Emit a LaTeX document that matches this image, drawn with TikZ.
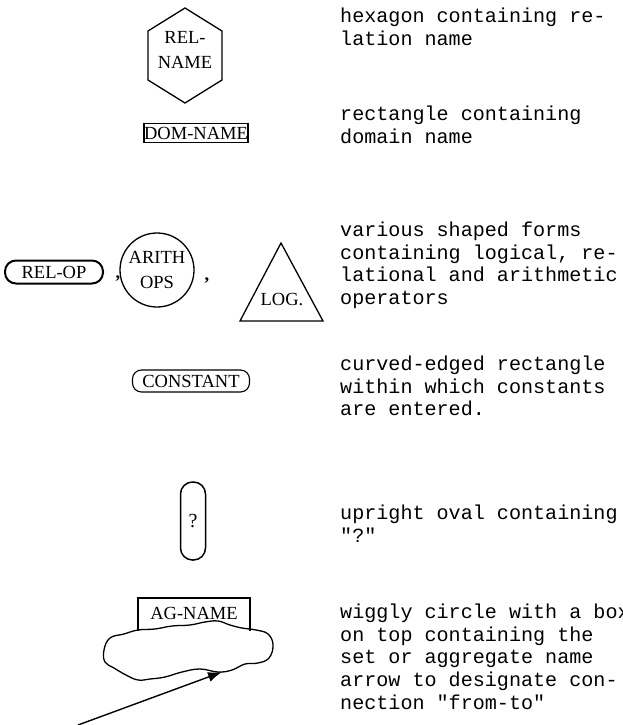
\documentclass[tikz,border=0pt]{standalone}
\usepackage{fontspec}
\setmainfont{Liberation Serif}
\newfontfamily\descfont{Liberation Mono}
\usetikzlibrary{arrows.meta,positioning,calc}

\begin{document}
\begin{tikzpicture}[
  x=1pt, y=-1pt,
  font=\fontsize{18.5}{25}\selectfont,
  desc/.style={anchor=north west, align=left, inner sep=0pt, font=\descfont\fontsize{20.1}{22.6}\selectfont},
  outline/.style={line width=1.3pt},
  dombox/.style={draw, outline, minimum width=102pt, minimum height=19pt, inner sep=0pt},
  relop/.style={draw, line width=2pt, rounded corners=11pt, minimum width=98pt, minimum height=23pt, inner sep=0pt},
  arith/.style={draw, circle, outline, minimum size=74pt, inner sep=0pt, align=center},
  constbox/.style={draw, line width=1.1pt, rounded corners=9pt, minimum width=117pt, minimum height=22pt, inner sep=0pt},
  askoval/.style={draw, line width=1.5pt, rounded corners=12pt, minimum width=25pt, minimum height=78pt, inner sep=0pt, font=\fontsize{20}{22}\selectfont},
  arr/.style={-{Latex[length=14pt,width=10pt]}, line width=1.4pt}
]
\useasboundingbox (0,0) rectangle (623,725);

% hexagon
\node[align=center, inner sep=0pt] (relname) at (185,50) {REL-\\NAME};
\draw[outline] (185,8) -- (222,31) -- (222,80) -- (185,103) -- (148,80) -- (148,31) -- cycle;
\node[desc] (d1) at (340,8) {hexagon containing re-\\lation name};

% rectangle
\node[dombox] (domname) at (196,133) {DOM-NAME};
\node[desc] (d2) at (340,106) {rectangle containing\\domain name};

% operators
\node[relop] (relop) at (54,272) {REL-OP};
\node (comma1) at (118,279) {\textbf{,}};
\node[arith] (arith) at (157,270) {ARITH\\OPS};
\node (comma2) at (207,281) {\textbf{,}};
\draw[outline] (281,243) -- (323,321) -- (240,321) -- cycle;
\node (logop) at (282,300) {LOG.};
\node[desc] (d3) at (340,222) {various shaped forms\\containing logical, re-\\lational and arithmetic\\operators};

% constant
\node[constbox] (const) at (191,381) {CONSTANT};
\node[desc] (d4) at (340,356) {curved-edged rectangle\\within which constants\\are entered.};

% query oval
\node[askoval] (ask) at (193,521) {?};
\node[desc] (d5) at (340,505) {upright oval containing\\"?"};

% aggregate
\node (agname) at (194,613) {AG-NAME};
\draw[outline] (138,631) |- (250,598) -- (250,631);
\draw[outline] plot[smooth cycle, tension=0.7] coordinates {
  (104,650) (110,638) (124,634) (138,630) (155,629) (172,626) (190,625)
  (205,622) (218,621) (230,625) (242,628) (256,630) (268,634) (273,645)
  (269,658) (258,663) (245,664) (232,670) (218,672) (200,669) (182,672)
  (165,677) (150,679) (138,680) (126,675) (114,668) (105,662)};
\coordinate (from) at (78,725);
\coordinate (to) at (222,672);
\draw[arr] (from) -- (to);
\node[desc] (d6) at (340,604) {wiggly circle with a box\\on top containing the\\set or aggregate name\\arrow to designate con-\\nection "from-to"};
\end{tikzpicture}
\end{document}
